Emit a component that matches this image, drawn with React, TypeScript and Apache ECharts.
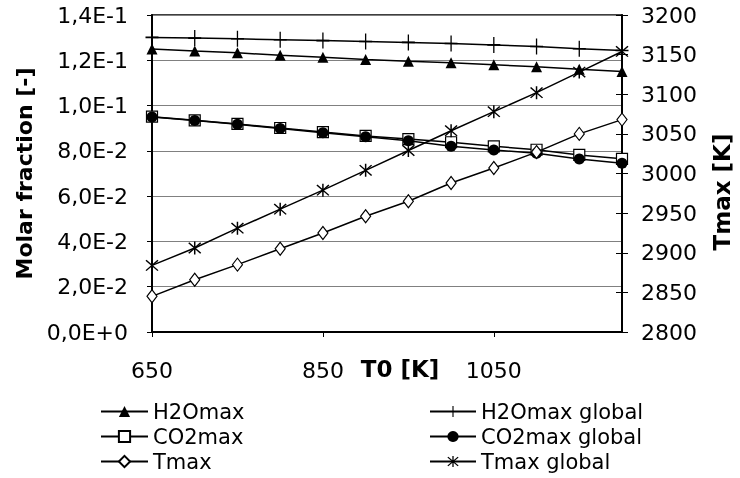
import React, { useEffect, useRef } from "react";
import * as echarts from "echarts";

const T0 = [650, 700, 750, 800, 850, 900, 950, 1000, 1050, 1100, 1150, 1200];
const h2oMax = [0.125, 0.1241, 0.1233, 0.1222, 0.1213, 0.1204, 0.1196, 0.1189, 0.118, 0.1171, 0.116, 0.115];
const h2oMaxGlobal = [0.1301, 0.1298, 0.1295, 0.1291, 0.1287, 0.1283, 0.1279, 0.1274, 0.1268, 0.1261, 0.1251, 0.1243];
const co2Max = [0.0951, 0.0935, 0.0919, 0.0901, 0.0883, 0.0866, 0.0852, 0.0838, 0.082, 0.0805, 0.0782, 0.0765];
const co2MaxGlobal = [0.095, 0.0934, 0.0917, 0.0899, 0.088, 0.0862, 0.0845, 0.082, 0.0804, 0.0789, 0.0764, 0.0745];
const tMax = [2845, 2866, 2885, 2905, 2925, 2946, 2965, 2988, 3007, 3027, 3050, 3068];
const tMaxGlobal = [2884, 2906, 2931, 2955, 2979, 3004, 3029, 3054, 3078, 3102, 3128, 3154];

const xTicks = { min: 650, max: 1200, interval: 200 };
const leftTicks = { min: 0, max: 0.14, interval: 0.02 };
const rightTicks = { min: 2800, max: 3200, interval: 50 };

const xName = "T0 [K]";
const leftName = "Molar fraction [-]";
const rightName = "Tmax [K]";

const plusPath = "path://M9,0h2v20h-2zM0,9h20v2h-20z";
const starPath =
  "path://M9,0h2v20h-2zM1.3,2.7L2.7,1.3L18.7,17.3L17.3,18.7zM17.3,1.3L18.7,2.7L2.7,18.7L1.3,17.3z";

const FONT = "DejaVu Sans";

export default function App() {
  const ref = useRef<HTMLDivElement>(null);
  useEffect(() => {
    const chart = echarts.init(ref.current!, null, { renderer: "svg" });
    const mk = (
      name: string,
      vals: number[],
      yAxisIndex: number,
      symbol: string,
      symbolSize: any,
      itemStyle: any,
      z: number
    ) => ({
      type: "line",
      name,
      yAxisIndex,
      data: T0.map((t, i) => [t, vals[i]]),
      symbol,
      symbolSize,
      showSymbol: true,
      lineStyle: { color: "#000", width: 1.5 },
      itemStyle,
      z,
    });
    const black = { color: "#000", borderColor: "#000", borderWidth: 0 };
    const hollow = { color: "#fff", borderColor: "#000", borderWidth: 1.2 };
    const legendText = { fontFamily: FONT, fontSize: 21, color: "#000" };
    const nameStyle = {
      fontFamily: FONT,
      fontSize: 22,
      fontWeight: "bold",
      fill: "#000",
    };
    chart.setOption({
      animation: false,
      textStyle: { fontFamily: FONT },
      grid: {
        show: true,
        borderColor: "#000",
        borderWidth: 1.5,
        left: 152,
        right: 118,
        top: 15,
        bottom: 146,
      },
      legend: [
        {
          left: 100,
          top: 401,
          padding: 0,
          height: 76,
          orient: "vertical",
          itemWidth: 47,
          itemHeight: 14,
          itemGap: 4,
          data: ["H2Omax", "CO2max", "Tmax"],
          textStyle: legendText,
        },
        {
          left: 429,
          top: 401,
          padding: 0,
          height: 76,
          orient: "vertical",
          itemWidth: 46,
          itemHeight: 14,
          itemGap: 4,
          data: ["H2Omax global", "CO2max global", "Tmax global"],
          textStyle: legendText,
        },
      ],
      graphic: [
        {
          type: "text",
          x: 400,
          y: 369,
          style: {
            ...nameStyle,
            text: xName,
            fontSize: 23,
            align: "center",
            verticalAlign: "middle",
          },
        },
        {
          type: "text",
          x: 722,
          y: 192,
          rotation: Math.PI / 2,
          style: {
            ...nameStyle,
            text: rightName,
            fontSize: 23,
            align: "center",
            verticalAlign: "middle",
          },
        },
      ],
      xAxis: {
        type: "value",
        ...xTicks,
        axisLine: { lineStyle: { color: "#000", width: 2 } },
        axisTick: { show: true, length: 5, lineStyle: { color: "#000" } },
        splitLine: { show: false },
        axisLabel: {
          margin: 27,
          fontSize: 22,
          color: "#000",
          fontFamily: FONT,
          showMaxLabel: false,
          formatter: (v: number) => (v === 1200 ? "" : String(v)),
        },
      },
      yAxis: [
        {
          type: "value",
          position: "left",
          ...leftTicks,
          axisLine: { show: true, lineStyle: { color: "#000", width: 2 } },
          axisTick: { show: true, length: 5, lineStyle: { color: "#000" } },
          splitLine: { show: true, lineStyle: { color: "#808080", width: 1 } },
          axisLabel: {
            margin: 24,
            fontSize: 22,
            color: "#000",
            fontFamily: FONT,
            formatter: (v: number) =>
              v.toExponential(1).replace(".", ",").replace("e", "E"),
          },
          name: leftName,
          nameLocation: "middle",
          nameGap: 117,
          nameMoveOverlap: false,
          nameTextStyle: {
            fontFamily: FONT,
            fontSize: 22,
            fontWeight: "bold",
            color: "#000",
          },
        },
        {
          type: "value",
          position: "right",
          ...rightTicks,
          axisLine: { show: true, lineStyle: { color: "#000", width: 2 } },
          axisTick: { show: true, length: 6, lineStyle: { color: "#000" } },
          splitLine: { show: false },
          axisLabel: {
            margin: 19,
            fontSize: 22,
            color: "#000",
            fontFamily: FONT,
            formatter: (v: number) => String(v),
          },
        },
        {
          type: "value",
          position: "right",
          ...rightTicks,
          axisLine: { show: false },
          axisTick: { show: true, inside: true, length: 6, lineStyle: { color: "#000" } },
          splitLine: { show: false },
          axisLabel: { show: false },
        },
      ],
      series: [
        mk("H2Omax global", h2oMaxGlobal, 0, plusPath, [13, 16], black, 2),
        mk("H2Omax", h2oMax, 0, "triangle", 11, black, 3),
        mk("CO2max", co2Max, 0, "rect", 11, hollow, 4),
        mk("CO2max global", co2MaxGlobal, 0, "circle", 11, black, 5),
        mk("Tmax", tMax, 1, "diamond", [10, 13], hollow, 6),
        mk("Tmax global", tMaxGlobal, 1, starPath, 13, black, 7),
      ],
    });
    return () => chart.dispose();
  }, []);
  return (
    <div
      ref={ref}
      style={{ position: "fixed", left: 0, top: 0, width: 740, height: 478 }}
    />
  );
}
